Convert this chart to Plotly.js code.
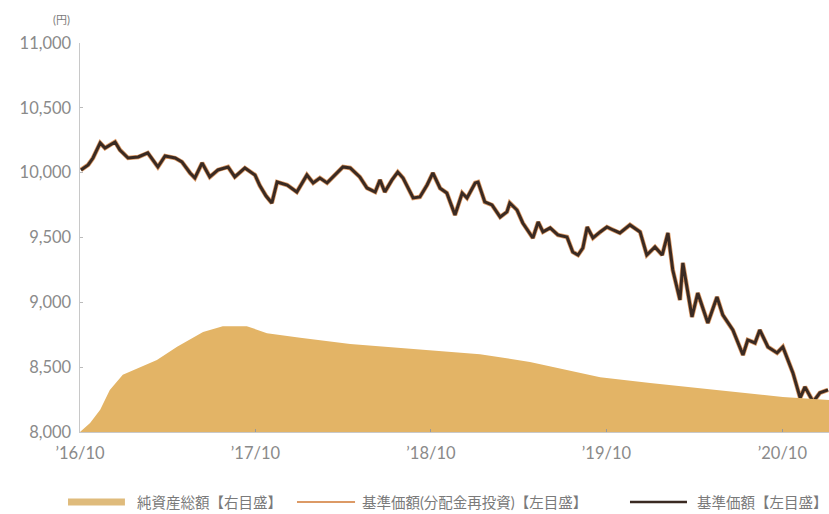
<!DOCTYPE html>
<html>
<head>
<meta charset="utf-8">
<script src="https://cdn.plot.ly/plotly-3.0.1.min.js"></script>
<style>
html,body{margin:0;padding:0;background:#fff;}
#chart{width:829px;height:514px;}
</style>
</head>
<body>
<div id="chart"></div>
<script>
// 基準価額 (円)
const navDates = [
"2016-10-03","2016-10-18","2016-10-28","2016-11-12","2016-11-22","2016-12-13","2016-12-23",
"2017-01-09","2017-01-30","2017-02-19","2017-03-12","2017-03-27","2017-04-17","2017-05-01",
"2017-05-18","2017-05-28","2017-06-12","2017-06-28","2017-07-15","2017-08-05","2017-08-19",
"2017-09-09","2017-09-30","2017-10-10","2017-10-23","2017-11-04","2017-11-15","2017-12-06",
"2017-12-26","2018-01-16","2018-01-29","2018-02-12","2018-02-27","2018-03-09","2018-04-01",
"2018-04-16","2018-05-06","2018-05-21","2018-06-07","2018-06-17","2018-06-27","2018-07-12",
"2018-07-24","2018-08-04","2018-08-14","2018-08-25","2018-09-08","2018-09-23","2018-10-05",
"2018-10-20","2018-11-03","2018-11-20","2018-12-05","2018-12-15","2019-01-01","2019-01-07",
"2019-01-21","2019-02-05","2019-02-22","2019-03-08","2019-03-14","2019-03-29","2019-04-10",
"2019-05-01","2019-05-12","2019-05-22","2019-06-06","2019-06-22","2019-07-11","2019-07-23",
"2019-08-03","2019-08-13","2019-08-22","2019-09-03","2019-09-18","2019-10-02","2019-10-15",
"2019-10-29","2019-11-19","2019-12-10","2019-12-24","2020-01-10","2020-01-25","2020-02-06",
"2020-02-16","2020-03-02","2020-03-08","2020-03-27","2020-04-08","2020-04-29","2020-05-18",
"2020-05-30","2020-06-20","2020-07-11","2020-07-21","2020-08-05","2020-08-15","2020-09-01",
"2020-09-20","2020-10-02","2020-10-23","2020-11-07","2020-11-17","2020-12-04","2020-12-18",
"2021-01-04"
];
const navValues = [
10021,10060,10113,10229,10190,10237,10175,
10113,10121,10152,10044,10129,10113,10083,
9998,9959,10075,9967,10021,10044,9967,
10036,9982,9900,9820,9766,9928,9905,
9851,9982,9921,9959,9921,9959,10044,
10036,9967,9882,9851,9944,9851,9944,
10005,9959,9890,9805,9813,9905,9998,
9880,9843,9674,9843,9805,9921,9928,
9774,9751,9658,9697,9766,9712,9612,
9496,9620,9543,9574,9520,9504,9388,
9365,9419,9581,9496,9543,9581,9558,
9535,9597,9543,9365,9427,9365,9535,
9249,9018,9304,8887,9072,8841,9042,
8903,8787,8594,8710,8687,8787,8656,
8610,8656,8456,8263,8348,8232,8302,
8325
];
// 基準価額(分配金再投資) — same as 基準価額 (no distributions)
const navReinvValues = navValues.slice();

// 純資産総額 (億円, right scale)
const aumDates = [
"2016-10-01","2016-10-22","2016-11-12","2016-12-02","2016-12-29","2017-02-03","2017-03-10",
"2017-04-21","2017-06-14","2017-07-25","2017-09-13","2017-10-25","2018-01-02","2018-04-16",
"2018-07-29","2018-10-03","2019-01-11","2019-04-25","2019-08-03","2019-09-18","2019-12-31",
"2020-04-13","2020-07-26","2020-10-02","2021-01-06"
];
const aumValues = [
0,23,57,108,147,167,185,
219,257,272,272,254,242,226,
216,211,200,180,154,141,126,
113,100,90,82
];

const tickDates = ["2016-10-01","2017-10-01","2018-10-01","2019-10-01","2020-10-01"];
const tickLabels = ["’16/10","’17/10","’18/10","’19/10","’20/10"];
const yTicks = [8000,8500,9000,9500,10000,10500,11000];
const yTickLabels = ["8,000","8,500","9,000","9,500","10,000","10,500","11,000"];

const seriesNames = ["純資産総額【右目盛】","基準価額(分配金再投資)【左目盛】","基準価額【左目盛】"];
const seriesColors = ["#e3b466","#dc9a66","#3a2a22"];

const traces = [
  {
    x: aumDates, y: aumValues, name: seriesNames[0], yaxis: "y2",
    type: "scatter", mode: "lines", fill: "tozeroy",
    line: {width: 0, color: seriesColors[0]}, fillcolor: seriesColors[0]
  },
  {
    x: navDates, y: navReinvValues, name: seriesNames[1],
    type: "scatter", mode: "lines",
    line: {width: 4.5, color: seriesColors[1]}
  },
  {
    x: navDates, y: navValues, name: seriesNames[2],
    type: "scatter", mode: "lines",
    line: {width: 3, color: seriesColors[2]}
  }
];

// manual legend (paper coordinates)
const legY = -0.18;
const legSwatches = [
  {x0: -0.016, x1: 0.060, w: 7, tx: 0.0734},
  {x0: 0.2897, x1: 0.3672, w: 2, tx: 0.3738},
  {x0: 0.7343, x1: 0.8104, w: 2.5, tx: 0.8211}
];
const shapes = legSwatches.map((s, i) => ({
  type: "line", xref: "paper", yref: "paper",
  x0: s.x0, x1: s.x1, y0: legY, y1: legY,
  line: {color: i === 0 ? "#dfbb7c" : seriesColors[i], width: s.w}
}));
const legAnn = legSwatches.map((s, i) => ({
  text: seriesNames[i], xref: "paper", yref: "paper", x: s.tx, y: legY,
  xanchor: "left", yanchor: "middle", showarrow: false,
  font: {size: 14.5, color: "#7a7a7a"}
}));

const fontFam = "Lato, 'Noto Sans CJK JP', sans-serif";
const layout = {
  width: 829, height: 514,
  margin: {l: 80, r: 0, t: 43, b: 82},
  paper_bgcolor: "#fff", plot_bgcolor: "#fff",
  font: {family: fontFam, color: "#777", size: 13},
  showlegend: false,
  xaxis: {
    type: "date", range: ["2016-10-01","2021-01-06"],
    tickvals: tickDates, ticktext: tickLabels,
    showgrid: false, zeroline: false,
    showline: true, linecolor: "#c8c8c8", linewidth: 1,
    ticks: "inside", ticklen: 3, tickcolor: "#999",
    ticklabelstandoff: 6,
    tickfont: {size: 16.5, color: "#8a8a8a"}
  },
  yaxis: {
    range: [8000, 11000], tickvals: yTicks, ticktext: yTickLabels,
    showgrid: false, zeroline: false,
    showline: true, linecolor: "#c8c8c8", linewidth: 1.5,
    ticks: "inside", ticklen: 3, tickcolor: "#bbb",
    ticklabelstandoff: 4,
    tickfont: {size: 16.5, color: "#8a8a8a"}
  },
  yaxis2: {
    overlaying: "y", side: "right", range: [0, 1000], visible: false
  },
  shapes: shapes,
  annotations: [{
    text: "(円)", xref: "paper", yref: "paper", x: 0, y: 1,
    xanchor: "right", yanchor: "bottom", xshift: -8, yshift: 15,
    showarrow: false, font: {size: 11, color: "#7a7a7a"}
  }].concat(legAnn)
};

Plotly.newPlot("chart", traces, layout, {displayModeBar: false, staticPlot: true});
</script>
</body>
</html>
